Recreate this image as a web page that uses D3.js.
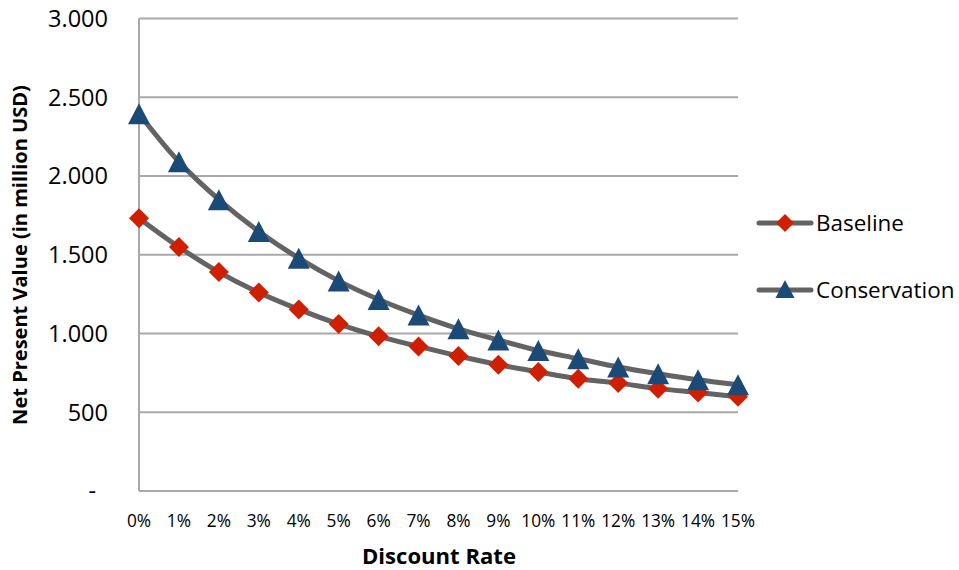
<!DOCTYPE html>
<html>
<head>
<meta charset="utf-8">
<script src="https://cdn.jsdelivr.net/npm/d3@7"></script>
<style>
  html, body { margin: 0; padding: 0; background: #fff; }
  svg { display: block; }
  text { font-family: "Open Sans", sans-serif; fill: #000; }
</style>
</head>
<body>
<svg id="chart" width="959" height="570"></svg>
<script>
const categories = ["0%","1%","2%","3%","4%","5%","6%","7%","8%","9%","10%","11%","12%","13%","14%","15%"];
const baseline     = [1732, 1549, 1390, 1260, 1153, 1060, 982, 918, 857, 802, 756, 713, 685, 650, 625, 598];
const conservation = [2395, 2090, 1850, 1648, 1478, 1334, 1216, 1117, 1030, 959, 892, 840, 787, 744, 706, 674];
const yTicks = [0, 500, 1000, 1500, 2000, 2500, 3000];
const yTickLabels = ["-", "500", "1.000", "1.500", "2.000", "2.500", "3.000"];
const seriesNames = ["Baseline", "Conservation"];

const svg = d3.select("#chart");
const plot = { left: 139, right: 738, top: 18.5, bottom: 491 };

const x = d3.scalePoint().domain(categories).range([plot.left, plot.right]);
const y = d3.scaleLinear().domain([0, 3000]).range([plot.bottom, plot.top]);

const gridColor = "#a9a9a9";

// scale a font size so that a sample string reaches a target width
function fitSize(sample, base, target, weight) {
  const t = svg.append("text").style("font-size", base + "px")
    .style("font-weight", weight || "normal").text(sample);
  const w = t.node().getComputedTextLength();
  t.remove();
  return base * target / w;
}

// gridlines
svg.append("g").selectAll("line").data(yTicks).join("line")
  .attr("x1", plot.left).attr("x2", plot.right)
  .attr("y1", d => y(d)).attr("y2", d => y(d))
  .attr("stroke", gridColor).attr("stroke-width", 2);

// y axis line
svg.append("line")
  .attr("x1", plot.left).attr("x2", plot.left)
  .attr("y1", y(3000)).attr("y2", y(0))
  .attr("stroke", gridColor).attr("stroke-width", 2);

// y tick labels
const ySize = fitSize("3.000", 20, 60);
svg.append("g").selectAll("text").data(yTicks).join("text")
  .attr("x", d => d === 0 ? 96 : 108)
  .attr("y", d => y(d))
  .attr("dy", "0.36em")
  .attr("text-anchor", "end")
  .style("font-size", ySize + "px")
  .text((d, i) => yTickLabels[i]);

// x tick labels
const xSize = fitSize("11%", 16, 34);
svg.append("g").selectAll("text").data(categories).join("text")
  .attr("x", d => x(d))
  .attr("y", 527)
  .attr("text-anchor", "middle")
  .style("font-size", xSize + "px")
  .text(d => d);

// axis titles
svg.append("text")
  .attr("x", 439).attr("y", 564)
  .attr("text-anchor", "middle")
  .style("font-size", fitSize("Discount Rate", 19, 154, "bold") + "px").style("font-weight", "bold")
  .text("Discount Rate");

svg.append("text")
  .attr("transform", "translate(27,255) rotate(-90)")
  .attr("text-anchor", "middle")
  .style("font-size", fitSize("Net Present Value (in million USD)", 17, 340, "bold") + "px").style("font-weight", "bold")
  .text("Net Present Value (in million USD)");

const line = d3.line()
  .x((d, i) => x(categories[i]))
  .y(d => y(d))
  .curve(d3.curveCatmullRom.alpha(0.5));

const lineColor = "#636363";
const diamondColor = "#d01f00";
const triColor = "#1c4a77";

function drawSeries(vals) {
  svg.append("path")
    .datum(vals)
    .attr("fill", "none")
    .attr("stroke", lineColor)
    .attr("stroke-width", 5)
    .attr("stroke-linejoin", "round")
    .attr("d", line);
}
drawSeries(baseline);
drawSeries(conservation);

function diamond(cx, cy, r) {
  return `M${cx},${cy - r}L${cx + r},${cy}L${cx},${cy + r}L${cx - r},${cy}Z`;
}
function triangle(cx, cy, w, h) {
  return `M${cx},${cy - h / 2}L${cx + w / 2},${cy + h / 2}L${cx - w / 2},${cy + h / 2}Z`;
}

svg.append("g").selectAll("path").data(baseline).join("path")
  .attr("d", (d, i) => diamond(x(categories[i]), y(d), 10))
  .attr("fill", diamondColor);

svg.append("g").selectAll("path").data(conservation).join("path")
  .attr("d", (d, i) => triangle(x(categories[i]), y(d), 22, 21))
  .attr("fill", triColor);

// legend
const legSize = fitSize("Baseline", 20, 88);
const legend = [
  { name: seriesNames[0], y: 223, type: "diamond" },
  { name: seriesNames[1], y: 290, type: "triangle" }
];
legend.forEach(l => {
  svg.append("line")
    .attr("x1", 759).attr("x2", 811)
    .attr("y1", l.y).attr("y2", l.y)
    .attr("stroke", lineColor).attr("stroke-width", 5)
    .attr("stroke-linecap", "round");
  if (l.type === "diamond") {
    svg.append("path").attr("d", diamond(785, l.y, 9)).attr("fill", diamondColor);
  } else {
    svg.append("path").attr("d", triangle(785, l.y - 1, 19, 18)).attr("fill", triColor);
  }
  svg.append("text")
    .attr("x", 816).attr("y", l.y)
    .attr("dy", "0.36em")
    .style("font-size", legSize + "px")
    .text(l.name);
});
</script>
</body>
</html>
